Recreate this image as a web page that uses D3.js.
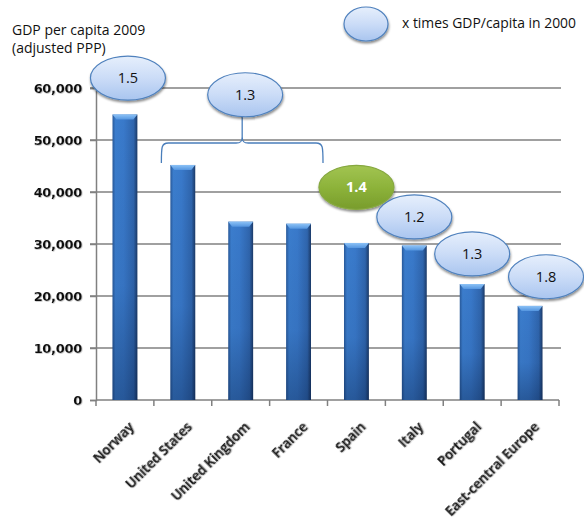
<!DOCTYPE html>
<html>
<head>
<meta charset="utf-8">
<script src="https://cdn.jsdelivr.net/npm/d3@7/dist/d3.min.js"></script>
<style>
  html, body { margin: 0; padding: 0; background: #fff; }
  svg { display: block; }
  text { font-family: "Open Sans", "Liberation Sans", sans-serif; }
</style>
</head>
<body>
<svg id="chart" width="584" height="519"></svg>
<script>
// GDP per capita 2009 (adjusted PPP), by country/region
const categories = ["Norway", "United States", "United Kingdom", "France", "Spain", "Italy", "Portugal", "East-central Europe"];
const gdp2009 = [54900, 45200, 34300, 33900, 30200, 29700, 22300, 18100];
const yTicks = [0, 10000, 20000, 30000, 40000, 50000, 60000];

// Growth multipliers vs. 2000 (ellipse callouts)
const growthLabels = ["1.5", "1.3", "1.4", "1.2", "1.3", "1.8"];
const growthFrom   = ["Norway", "United States", "Spain", "Italy", "Portugal", "East-central Europe"];
const growthTo     = ["Norway", "France", "Spain", "Italy", "Portugal", "East-central Europe"];
const growthLevel  = [61900, 58700, 40900, 35200, 28100, 23700];
const highlighted  = ["Spain"];

const legendText = "x times GDP/capita in 2000";
const titleLines = ["GDP per capita 2009", "(adjusted PPP)"];

const svg = d3.select("#chart");
const plotLeft = 96, plotRight = 559, plotTop = 88, plotBottom = 400, gridRight = 561;

const x = d3.scaleBand().domain(categories).range([plotLeft, plotRight]).paddingInner(0.57).paddingOuter(0.285);
const y = d3.scaleLinear().domain([0, 60000]).range([plotBottom, plotTop]);

const defs = svg.append("defs");
// bar body: horizontal shading
const gBar = defs.append("linearGradient").attr("id", "barH").attr("x1", 0).attr("x2", 1).attr("y1", 0).attr("y2", 0);
[[0, "#28599a"], [0.12, "#3b7dcd"], [0.45, "#3979ca"], [0.85, "#2f65ad"], [1, "#1b3a68"]]
  .forEach(([o, c]) => gBar.append("stop").attr("offset", o).attr("stop-color", c));
const gBarV = defs.append("linearGradient").attr("id", "barV").attr("x1", 0).attr("x2", 0).attr("y1", 0).attr("y2", 1);
[[0, "#000", 0], [0.6, "#001030", 0.06], [1, "#001030", 0.32]]
  .forEach(([o, c, a]) => gBarV.append("stop").attr("offset", o).attr("stop-color", c).attr("stop-opacity", a));
const gBevel = defs.append("linearGradient").attr("id", "bevel").attr("x1", 0).attr("x2", 0).attr("y1", 0).attr("y2", 1);
[[0, "#8cc2f6"], [1, "#5596e0"]].forEach(([o, c]) => gBevel.append("stop").attr("offset", o).attr("stop-color", c));

// callout fills
const gBlue = defs.append("linearGradient").attr("id", "ellBlue").attr("x1", 0).attr("x2", 0).attr("y1", 0).attr("y2", 1);
[[0, "#e6effc"], [0.5, "#cbdcf7"], [1, "#a9c5ef"]].forEach(([o, c]) => gBlue.append("stop").attr("offset", o).attr("stop-color", c));
const gGreen = defs.append("linearGradient").attr("id", "ellGreen").attr("x1", 0).attr("x2", 0).attr("y1", 0).attr("y2", 1);
[[0, "#a2c452"], [0.5, "#8db33a"], [1, "#789c2c"]].forEach(([o, c]) => gGreen.append("stop").attr("offset", o).attr("stop-color", c));
const shadow = defs.append("filter").attr("id", "shadow").attr("x", "-20%").attr("y", "-20%").attr("width", "140%").attr("height", "150%");
shadow.append("feDropShadow").attr("dx", 0.5).attr("dy", 2).attr("stdDeviation", 1.2).attr("flood-color", "#000").attr("flood-opacity", 0.45);
const txtShadow = defs.append("filter").attr("id", "tshadow").attr("x", "-10%").attr("y", "-30%").attr("width", "120%").attr("height", "160%");
txtShadow.append("feDropShadow").attr("dx", 0.6).attr("dy", 0.6).attr("stdDeviation", 0.5).attr("flood-color", "#888").attr("flood-opacity", 0.7);

// gridlines
svg.append("g").selectAll("line").data(yTicks.filter(d => d > 0)).join("line")
  .attr("x1", plotLeft - 6).attr("x2", gridRight).attr("y1", d => y(d)).attr("y2", d => y(d))
  .attr("stroke", "#808080").attr("stroke-width", 1.5);

// y axis
const yAxis = svg.append("g").attr("transform", `translate(${plotLeft},0)`)
  .call(d3.axisLeft(y).tickValues(yTicks).tickSize(6).tickPadding(8).tickFormat(d3.format(",")));
yAxis.select(".domain").attr("stroke", "#808080").attr("stroke-width", 1.5);
yAxis.selectAll(".tick line").attr("stroke", "#808080").attr("stroke-width", 1.5);
yAxis.selectAll(".tick text")
  .style("font-family", "'DejaVu Sans', sans-serif").style("font-weight", "bold").style("font-size", "13px")
  .style("letter-spacing", "-0.3px")
  .attr("fill", "#111").attr("filter", "url(#tshadow)");

// x axis: ticks between categories
const xBounds = d3.range(categories.length + 1).map(i => plotLeft + i * x.step());
const xAxis = svg.append("g");
xAxis.append("line").attr("x1", plotLeft).attr("x2", plotRight).attr("y1", plotBottom).attr("y2", plotBottom)
  .attr("stroke", "#808080").attr("stroke-width", 1.5);
xAxis.selectAll("line.tk").data(xBounds).join("line").attr("class", "tk")
  .attr("x1", d => d).attr("x2", d => d).attr("y1", plotBottom).attr("y2", plotBottom + 6)
  .attr("stroke", "#808080").attr("stroke-width", 1.5);
xAxis.selectAll("text").data(categories).join("text")
  .attr("transform", d => `translate(${x(d) + x.bandwidth() / 2 + 10},${plotBottom + 28}) rotate(-45)`)
  .attr("text-anchor", "end")
  .attr("font-weight", "bold").attr("font-size", 13.5).attr("letter-spacing", -0.3).attr("fill", "#1a1a1a")
  .attr("filter", "url(#tshadow)")
  .text(d => d);

// bars
const bars = svg.append("g").selectAll("g").data(categories.map((c, i) => ({ c, v: gdp2009[i] }))).join("g");
bars.append("rect").attr("x", d => x(d.c)).attr("width", x.bandwidth())
  .attr("y", d => y(d.v)).attr("height", d => y(0) - y(d.v)).attr("fill", "url(#barH)");
bars.append("rect").attr("x", d => x(d.c)).attr("width", x.bandwidth())
  .attr("y", d => y(d.v)).attr("height", d => y(0) - y(d.v)).attr("fill", "url(#barV)");
bars.append("path").attr("fill", "url(#bevel)")
  .attr("d", d => {
    const x0 = x(d.c), x1 = x0 + x.bandwidth(), t = y(d.v), b = 4;
    return `M${x0},${t}L${x1},${t}L${x1 - b},${t + b + 1}L${x0 + b},${t + b + 1}Z`;
  });

// brace grouping United States .. France
const braceA = x("United States") - 9, braceB = x("France") + x.bandwidth() + 12;
const braceMid = (braceA + braceB) / 2, braceY = 143, braceEnd = 163;
svg.append("path").attr("fill", "none").attr("stroke", "#4a7ebb").attr("stroke-width", 1.3)
  .attr("d", `M${braceA},${braceEnd} C${braceA},${braceY + 4} ${braceA},${braceY} ${braceA + 7},${braceY}
    L${braceMid - 6},${braceY} C${braceMid - 2},${braceY} ${braceMid},${braceY - 1} ${braceMid},${braceY - 6}
    C${braceMid},${braceY - 1} ${braceMid + 2},${braceY} ${braceMid + 6},${braceY}
    L${braceB - 7},${braceY} C${braceB},${braceY} ${braceB},${braceY + 4} ${braceB},${braceEnd}`);

// callout ellipses
const callouts = growthLabels.map((g, i) => {
  const a = x(growthFrom[i]), b = x(growthTo[i]) + x.bandwidth();
  return { g, cx: (a + b) / 2, cy: y(growthLevel[i]), hi: highlighted.includes(growthFrom[i]) };
});
// nudges for the first, grouped and last callouts
callouts[0].cx += 3;
callouts[5].cx += 16;
callouts[1].cx = braceMid + 3;

svg.append("line").attr("x1", braceMid).attr("x2", braceMid).attr("y1", callouts[1].cy + 18).attr("y2", braceY - 6)
  .attr("stroke", "#4a7ebb").attr("stroke-width", 1.3);

const cg = svg.append("g").selectAll("g").data(callouts).join("g");
cg.append("ellipse").attr("cx", d => d.cx).attr("cy", d => d.cy).attr("rx", 37.5).attr("ry", 22)
  .attr("fill", d => d.hi ? "url(#ellGreen)" : "url(#ellBlue)")
  .attr("stroke", d => d.hi ? "#86a83f" : "#4f81bd").attr("stroke-width", 1.2)
  .attr("filter", "url(#shadow)");
cg.append("text").attr("x", d => d.cx).attr("y", d => d.cy + 5).attr("text-anchor", "middle")
  .attr("font-size", 14.5).attr("font-weight", d => d.hi ? "bold" : "normal")
  .attr("fill", d => d.hi ? "#fff" : "#111").text(d => d.g);

// title
const title = svg.append("g").attr("font-size", 14).attr("fill", "#111");
title.selectAll("text").data(titleLines).join("text")
  .attr("x", 12).attr("y", (d, i) => 35 + i * 18).text(d => d);

// legend
svg.append("ellipse").attr("cx", 366).attr("cy", 24).attr("rx", 22).attr("ry", 17)
  .attr("fill", "url(#ellBlue)").attr("stroke", "#4f81bd").attr("stroke-width", 1.2).attr("filter", "url(#shadow)");
svg.append("text").attr("x", 402).attr("y", 28).attr("font-size", 14)
  .attr("textLength", 174).attr("lengthAdjust", "spacingAndGlyphs")
  .attr("fill", "#111").text(legendText);
</script>
</body>
</html>
